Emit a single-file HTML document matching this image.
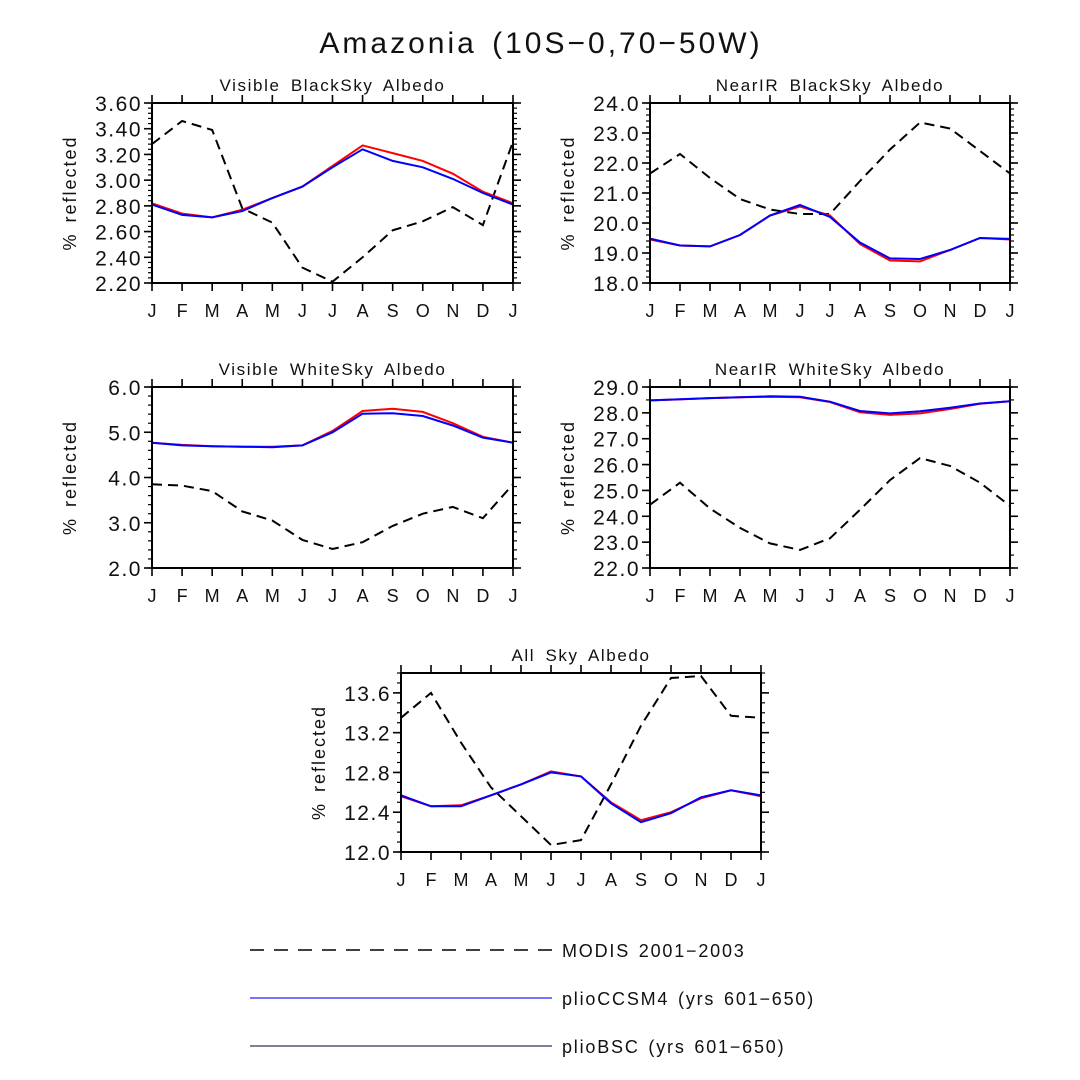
<!DOCTYPE html>
<html><head><meta charset="utf-8"><style>
html,body{margin:0;padding:0;background:#fff;}
svg{display:block;font-family:"Liberation Sans","DejaVu Sans",sans-serif;}
</style></head>
<body>
<svg id="fig" width="1080" height="1080" viewBox="0 0 1080 1080" xmlns="http://www.w3.org/2000/svg">
<rect width="1080" height="1080" fill="#fff"/>
<text x="541" y="53" text-anchor="middle" font-size="30" letter-spacing="3" word-spacing="4" fill="#111">Amazonia (10S−0,70−50W)</text>
<g id="panels"></g>
<g fill="#111">
<line x1="250" y1="950" x2="552" y2="950" stroke="#000" stroke-width="1.5" stroke-dasharray="14,10"/>
<text x="562" y="957" font-size="18" letter-spacing="1.8" word-spacing="2">MODIS 2001−2003</text>
<line x1="250" y1="998" x2="552" y2="998" stroke="#2222ff" stroke-width="1.2"/>
<text x="562" y="1005" font-size="18" letter-spacing="1.8" word-spacing="2">plioCCSM4 (yrs 601−650)</text>
<line x1="250" y1="1046" x2="552" y2="1046" stroke="#000033" stroke-width="1"/>
<text x="562" y="1053" font-size="18" letter-spacing="1.8" word-spacing="2">plioBSC (yrs 601−650)</text>
</g>
</svg>
<script>
const months = ["J","F","M","A","M","J","J","A","S","O","N","D","J"];

const p1Modis = [3.28,3.46,3.39,2.78,2.67,2.32,2.21,2.40,2.61,2.68,2.79,2.65,3.30];
const p1Red   = [2.82,2.74,2.71,2.77,2.86,2.95,3.11,3.27,3.21,3.15,3.05,2.91,2.82];
const p1Blue  = [2.81,2.73,2.71,2.76,2.86,2.95,3.10,3.24,3.15,3.10,3.01,2.90,2.81];
const p1Ticks = ["2.20","2.40","2.60","2.80","3.00","3.20","3.40","3.60"];

const p2Modis = [21.65,22.3,21.5,20.8,20.45,20.3,20.3,21.4,22.45,23.35,23.15,22.4,21.65];
const p2Red   = [19.45,19.25,19.22,19.6,20.25,20.55,20.25,19.3,18.75,18.72,19.1,19.5,19.45];
const p2Blue  = [19.48,19.25,19.22,19.6,20.25,20.6,20.2,19.35,18.82,18.8,19.1,19.5,19.47];
const p2Ticks = ["18.0","19.0","20.0","21.0","22.0","23.0","24.0"];

const p3Modis = [3.85,3.82,3.7,3.25,3.05,2.62,2.42,2.57,2.93,3.2,3.35,3.1,3.85];
const p3Red   = [4.77,4.72,4.69,4.68,4.68,4.71,5.03,5.47,5.52,5.45,5.2,4.9,4.77];
const p3Blue  = [4.77,4.71,4.69,4.68,4.67,4.71,5.0,5.41,5.42,5.36,5.15,4.88,4.77];
const p3Ticks = ["2.0","3.0","4.0","5.0","6.0"];

const p4Modis = [24.45,25.3,24.3,23.55,22.95,22.7,23.15,24.25,25.4,26.25,25.95,25.3,24.4];
const p4Red   = [28.48,28.52,28.57,28.6,28.62,28.6,28.42,28.02,27.92,27.98,28.15,28.35,28.45];
const p4Blue  = [28.48,28.53,28.57,28.6,28.64,28.62,28.43,28.07,27.98,28.06,28.2,28.36,28.45];
const p4Ticks = ["22.0","23.0","24.0","25.0","26.0","27.0","28.0","29.0"];

const p5Modis = [13.35,13.6,13.1,12.65,12.36,12.07,12.12,12.68,13.27,13.75,13.77,13.37,13.35];
const p5Red   = [12.56,12.46,12.47,12.57,12.68,12.81,12.76,12.5,12.32,12.40,12.54,12.62,12.56];
const p5Blue  = [12.57,12.46,12.46,12.57,12.68,12.80,12.76,12.49,12.30,12.39,12.55,12.62,12.57];
const p5Ticks = ["12.0","12.4","12.8","13.2","13.6"];

const NS="http://www.w3.org/2000/svg";
function mk(tag, attrs, parent){const e=document.createElementNS(NS,tag);for(const k in attrs)e.setAttribute(k,attrs[k]);parent.appendChild(e);return e;}

const panels=[
 {id:"visible-blacksky",title:"Visible BlackSky Albedo",x0:152,x1:513,y0:103,y1:283,min:2.2,max:3.6,ticks:p1Ticks,minor:0.04,m:p1Modis,r:p1Red,b:p1Blue},
 {id:"nearir-blacksky",title:"NearIR BlackSky Albedo",x0:650,x1:1010,y0:103,y1:283,min:18,max:24,ticks:p2Ticks,minor:0.2,m:p2Modis,r:p2Red,b:p2Blue},
 {id:"visible-whitesky",title:"Visible WhiteSky Albedo",x0:152,x1:513,y0:387,y1:568,min:2,max:6,ticks:p3Ticks,minor:0.2,m:p3Modis,r:p3Red,b:p3Blue},
 {id:"nearir-whitesky",title:"NearIR WhiteSky Albedo",x0:650,x1:1010,y0:387,y1:568,min:22,max:29,ticks:p4Ticks,minor:0.5,m:p4Modis,r:p4Red,b:p4Blue},
 {id:"all-sky",title:"All Sky Albedo",x0:401,x1:761,y0:673,y1:852,min:12,max:13.8,ticks:p5Ticks,minor:0.1,m:p5Modis,r:p5Red,b:p5Blue}
];
const root=document.getElementById("panels");
panels.forEach(p=>{
 const g=mk("g",{fill:"#111"},root);
 
 
 const xs=i=>p.x0+(p.x1-p.x0)*i/12;
 const ys=v=>p.y1-(v-p.min)/(p.max-p.min)*(p.y1-p.y0);
 const t=mk("text",{x:(p.x0+p.x1)/2,y:p.y0-12,"text-anchor":"middle","font-size":"17","letter-spacing":"1.6","word-spacing":"4"},g);
 t.textContent=p.title;
 
 
 const yl=mk("text",{x:0,y:0,"text-anchor":"middle","font-size":"18","letter-spacing":"2","word-spacing":"3",transform:`translate(${p.x0-76},${(p.y0+p.y1)/2}) rotate(-90)`},g);
 yl.textContent="% reflected";
 
 
 const nMin=Math.round((p.max-p.min)/p.minor);
 for(let k=0;k<=nMin;k++){const y=ys(p.min+k*p.minor);
  mk("line",{x1:p.x0-4,x2:p.x0,y1:y,y2:y,stroke:"#000","stroke-width":1.2},g);
  mk("line",{x1:p.x1,x2:p.x1+4,y1:y,y2:y,stroke:"#000","stroke-width":1.2},g);}
 p.ticks.forEach(s=>{const y=ys(parseFloat(s));
  mk("line",{x1:p.x0-8,x2:p.x0,y1:y,y2:y,stroke:"#000","stroke-width":1.6},g);
  mk("line",{x1:p.x1,x2:p.x1+8,y1:y,y2:y,stroke:"#000","stroke-width":1.6},g);
  const tl=mk("text",{x:p.x0-10,y:y+8,"text-anchor":"end","font-size":"21","letter-spacing":"1.5"},g);
  tl.textContent=s;
  
  });
 months.forEach((mo,i)=>{const x=xs(i);
  mk("line",{x1:x,x2:x,y1:p.y1,y2:p.y1+8,stroke:"#000","stroke-width":1.6},g);
  mk("line",{x1:x,x2:x,y1:p.y0-8,y2:p.y0,stroke:"#000","stroke-width":1.6},g);
  const tl=mk("text",{x:x,y:p.y1+34,"text-anchor":"middle","font-size":"18"},g);
  tl.textContent=mo;
  
  });
 const pts=a=>a.map((v,i)=>xs(i).toFixed(1)+","+ys(v).toFixed(1)).join(" ");
 const lm=mk("polyline",{points:pts(p.m),fill:"none",stroke:"#000","stroke-width":2,"stroke-dasharray":"10,6"},g);
 
 
 const lr=mk("polyline",{points:pts(p.r),fill:"none",stroke:"#ff0000","stroke-width":2},g);
 
 
 const lb=mk("polyline",{points:pts(p.b),fill:"none",stroke:"#0000ff","stroke-width":2},g);
 
 
 const fr=mk("rect",{x:p.x0,y:p.y0,width:p.x1-p.x0,height:p.y1-p.y0,fill:"none",stroke:"#000","stroke-width":2},g);
 
 
});
</script>
</body></html>
